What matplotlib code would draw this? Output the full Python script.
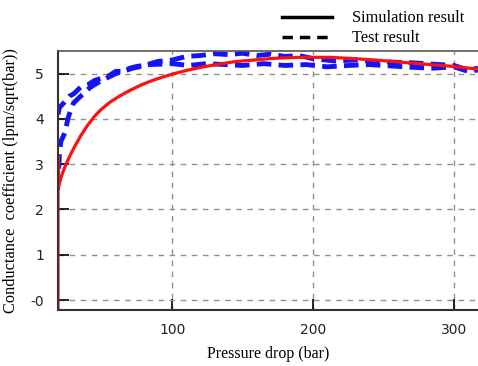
import numpy as np
import matplotlib
matplotlib.use('Agg')
import matplotlib.pyplot as plt
from matplotlib.lines import Line2D

# simulation curve (pressure drop in bar, conductance coefficient)
sim_p = [19, 19, 19.2, 20, 21.5, 23, 25, 28, 31, 35, 40, 45, 50, 56, 63, 70, 78,
         87, 98, 110, 122, 135, 146, 158, 169, 180, 190, 200, 212, 230, 252, 275,
         299, 317]
sim_k = [-0.3, 3.2, 2.45, 2.58, 2.74, 2.87, 3.02, 3.22, 3.4, 3.62, 3.86, 4.06,
         4.22, 4.37, 4.51, 4.63, 4.75, 4.86, 4.97, 5.07, 5.15, 5.22, 5.27, 5.3,
         5.33, 5.35, 5.36, 5.36, 5.36, 5.33, 5.28, 5.22, 5.16, 5.1]

# test data, upper and lower edge of the measured band
test_up_p = [19, 20, 23, 27, 30, 35, 40, 45, 50, 55, 60, 65, 70, 75, 80, 90, 100,
             110, 120, 130, 140, 150, 160, 170, 180, 190, 200, 215, 230, 250, 270,
             290, 300, 310, 317]
test_up_k = [4.1, 4.25, 4.35, 4.5, 4.55, 4.7, 4.75, 4.85, 4.9, 4.95, 5.05, 5.05,
             5.12, 5.16, 5.18, 5.27, 5.3, 5.38, 5.4, 5.44, 5.42, 5.45, 5.4, 5.43,
             5.38, 5.4, 5.33, 5.28, 5.3, 5.26, 5.24, 5.2, 5.18, 5.08, 5.12]
test_lo_p = [19.5, 20, 21, 24, 26, 27, 30, 35, 42, 50, 60, 72, 84, 100, 112, 124,
             138, 150, 165, 180, 195, 210, 225, 240, 255, 270, 285, 300, 310, 317]
test_lo_k = [2.9, 3.2, 3.5, 3.7, 4.0, 4.1, 4.35, 4.5, 4.7, 4.85, 5.0, 5.12, 5.2,
             5.22, 5.18, 5.22, 5.2, 5.18, 5.22, 5.18, 5.2, 5.15, 5.18, 5.2, 5.17,
             5.14, 5.12, 5.15, 5.05, 5.08]

x_ticks = [100, 200, 300]
y_ticks = [0, 1, 2, 3, 4, 5]
y_tick_labels = ['-0', '1', '2', '3', '4', '5']

fig = plt.figure(figsize=(4.78, 3.66), dpi=100)
ax = fig.add_axes([0.1213, 0.153, 0.8787, 0.7077])

ax.plot(test_up_p, test_up_k, color='#1414f5', linewidth=3.5, linestyle=(0, (3, 1.5)))
ax.plot(test_lo_p, test_lo_k, color='#1414f5', linewidth=3.5, linestyle=(0, (3, 1.5)))
ax.plot(sim_p, sim_k, color='#ff1010', linewidth=2.3)

ax.set_xlim(19, 317)
ax.set_ylim(-0.22, 5.5)
ax.set_xticks(x_ticks)
ax.set_yticks(y_ticks)
ax.set_yticklabels(y_tick_labels)
ax.tick_params(direction='in', length=8, width=1.2, color='black',
               labelsize=10, labelcolor='#222222', pad=10)
ax.tick_params(axis='x', pad=9)
for lab in ax.get_xticklabels() + ax.get_yticklabels():
    lab.set_family('DejaVu Sans')

ax.grid(True, color='#909090', linestyle=(0, (4, 4)), linewidth=1)
ax.set_axisbelow(True)
for s in ['left', 'bottom']:
    ax.spines[s].set_color('#333333')
    ax.spines[s].set_linewidth(1.5)
ax.spines['top'].set_color('#555555')
ax.spines['top'].set_linewidth(1.2)
ax.spines['right'].set_visible(False)

ax.set_xlabel('Pressure drop (bar)', family='Liberation Serif', fontsize=11.5, labelpad=7)
ax.set_ylabel('Conductance  coefficient (lpm/sqrt(bar))', family='Liberation Serif',
              fontsize=11.8, labelpad=8)

handles = [Line2D([], [], color='black', linewidth=2.5),
           Line2D([], [], color='black', linewidth=2.5, linestyle=(0, (3, 2)))]
fig.legend(handles, ['Simulation result', 'Test result'], loc='upper left',
           bbox_to_anchor=(0.56, 1.012), frameon=False, handlelength=3.05,
           handletextpad=1.22, labelspacing=0.25,
           prop={'family': 'Liberation Serif', 'size': 11.8})

plt.savefig('out.png', dpi=100)
